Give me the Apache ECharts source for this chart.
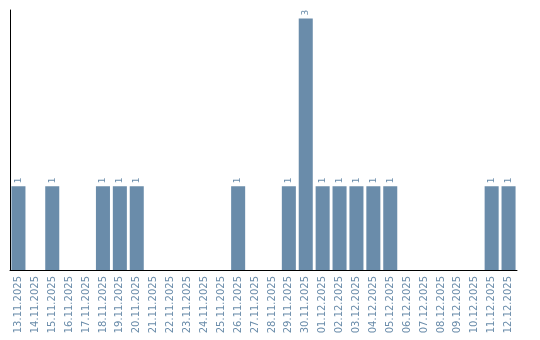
<!DOCTYPE html>
<html><head><meta charset="utf-8">
<script src="https://cdn.jsdelivr.net/npm/echarts@6/dist/echarts.min.js"></script>
<style>html,body{margin:0;padding:0;background:#fff}#c{width:540px;height:340px}</style>
</head><body><div id="c"></div>
<script>
var categories = ["13.11.2025","14.11.2025","15.11.2025","16.11.2025","17.11.2025","18.11.2025","19.11.2025","20.11.2025","21.11.2025","22.11.2025","23.11.2025","24.11.2025","25.11.2025","26.11.2025","27.11.2025","28.11.2025","29.11.2025","30.11.2025","01.12.2025","02.12.2025","03.12.2025","04.12.2025","05.12.2025","06.12.2025","07.12.2025","08.12.2025","09.12.2025","10.12.2025","11.12.2025","12.12.2025"];
var values = [1,0,1,0,0,1,1,1,0,0,0,0,0,1,0,0,1,3,1,1,1,1,1,0,0,0,0,0,1,1];
var chart = echarts.init(document.getElementById('c'), null, {renderer:'canvas'});
chart.setOption({
  animation:false,
  grid:{left:10,right:23,top:10,bottom:70,containLabel:false},
  xAxis:{type:'category',data:categories,
    axisLine:{lineStyle:{color:'#000',width:1}},
    axisTick:{show:false},
    axisLabel:{rotate:90,interval:0,color:'#6a8caa',fontFamily:'DejaVu Sans',fontSize:10,margin:6}},
  yAxis:{type:'value',min:0,max:3.1,
    axisLine:{show:true,lineStyle:{color:'#000',width:1}},
    axisTick:{show:false},axisLabel:{show:false},splitLine:{show:false}},
  series:[{type:'bar',data:values,barCategoryGap:'17%',
    itemStyle:{color:'#6a8caa'},
    label:{show:true,position:'top',rotate:90,distance:3,color:'#6a8caa',fontFamily:'DejaVu Sans',fontSize:9,
      align:'left',verticalAlign:'middle',
      formatter:function(p){return p.value>0?String(p.value):'';}}}]
});
</script></body></html>
